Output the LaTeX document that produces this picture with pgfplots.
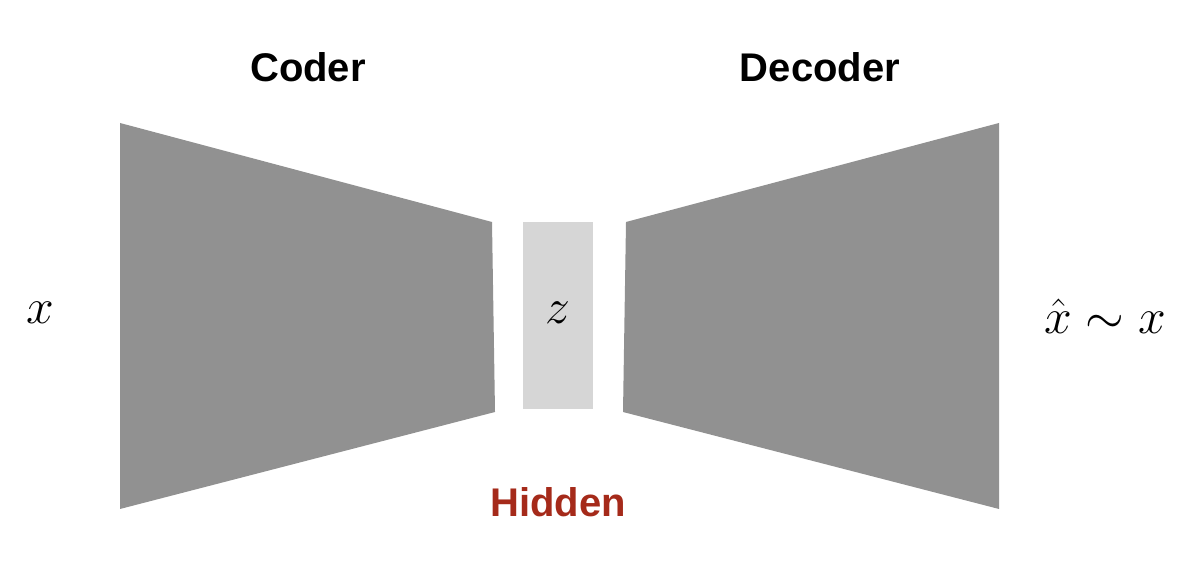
\documentclass[border=0pt]{standalone}
\usepackage{pgfplots}
\pgfplotsset{compat=1.18}
\usepackage{fontspec}
\setmainfont{Liberation Sans}
\definecolor{dark}{HTML}{919191}
\definecolor{light}{HTML}{D6D6D6}
\definecolor{hid}{HTML}{A52A1A}
\begin{document}
\begin{tikzpicture}
\begin{axis}[width=599pt,height=288pt,scale only axis,hide axis,
  xmin=0,xmax=1198,ymin=0,ymax=576,clip=false]
\addplot[fill=dark,draw=none] coordinates {(120,453) (492,354) (495,164) (120,67)} -- cycle;
\addplot[fill=dark,draw=none] coordinates {(626,354) (999,453) (999,67) (623,164)} -- cycle;
\addplot[fill=light,draw=none] coordinates {(523,354) (593,354) (593,167) (523,167)} -- cycle;
\node[font=\fontsize{20}{24}\selectfont\bfseries] at (axis cs:308,509) {Coder};
\node[font=\fontsize{20}{24}\selectfont\bfseries] at (axis cs:820,509) {Decoder};
\node[font=\fontsize{20}{24}\selectfont\bfseries,text=hid] at (axis cs:558,74) {Hidden};
\node[font=\fontsize{24}{28}\selectfont] at (axis cs:40,263) {$x$};
\node[font=\fontsize{24}{28}\selectfont] at (axis cs:558,263) {$z$};
\node[font=\fontsize{24}{28}\selectfont] at (axis cs:1105,260) {$\hat{x}\sim x$};
\end{axis}
\pgfresetboundingbox
\path[use as bounding box] (current axis.south west) rectangle (current axis.north east);
\end{tikzpicture}
\end{document}
